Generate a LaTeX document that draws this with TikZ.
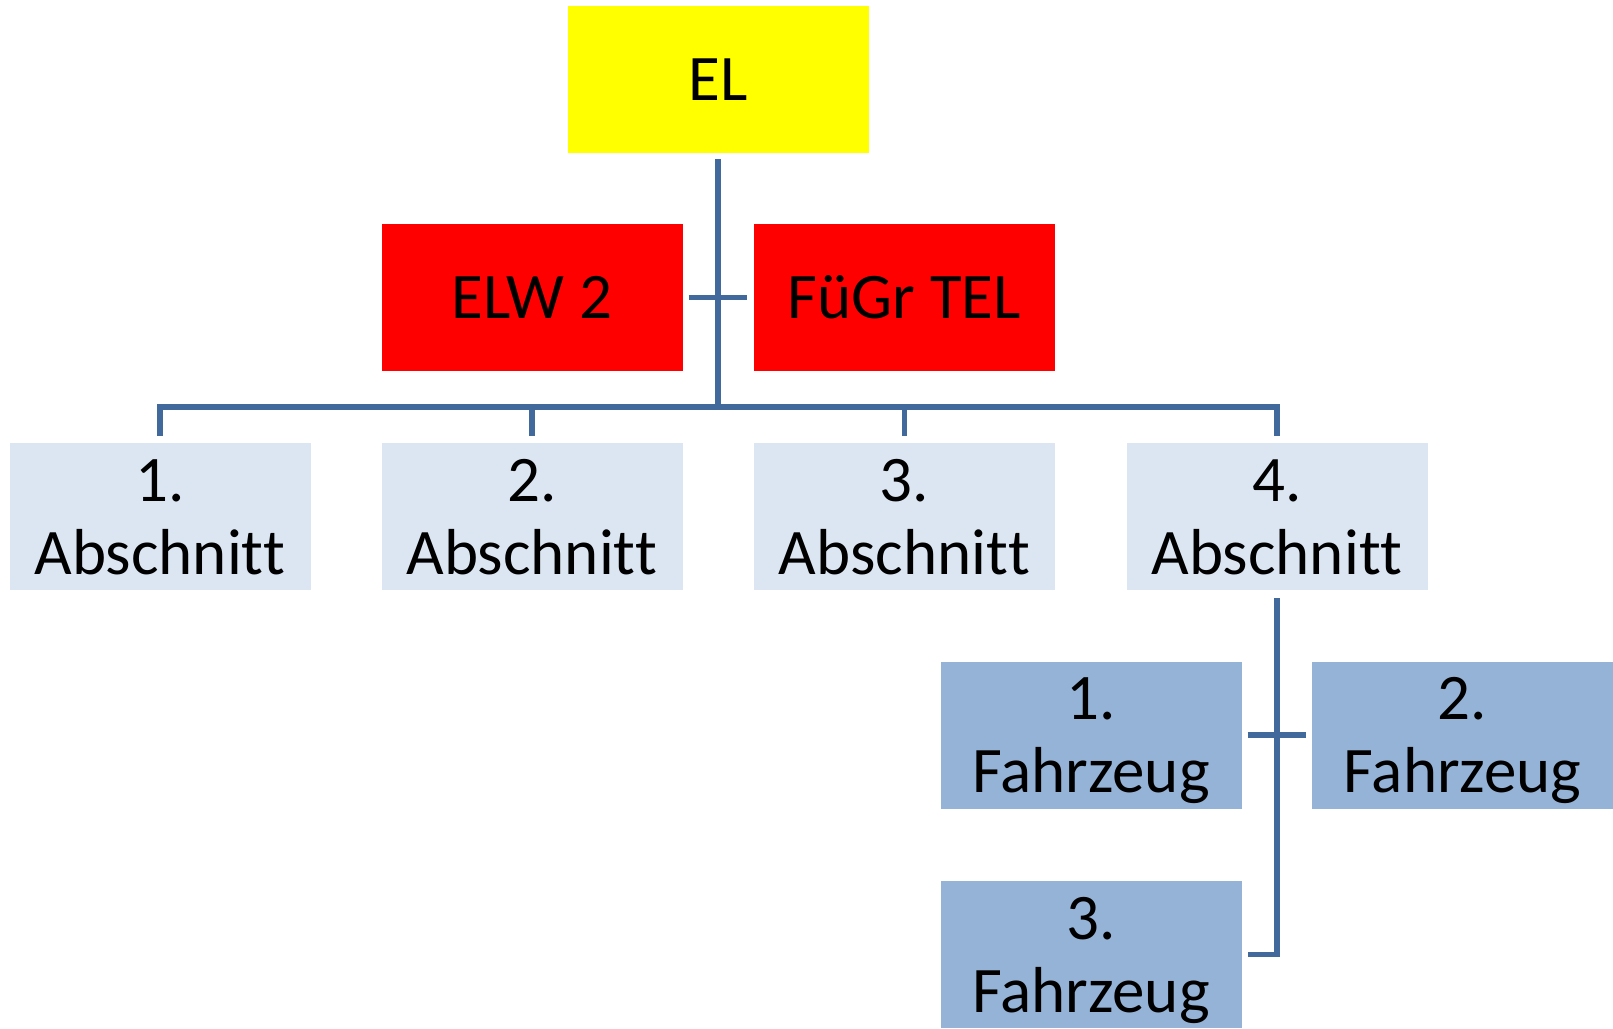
\documentclass[tikz,border=0pt]{standalone}
\usepackage{fontspec}
\setmainfont[RawFeature={-liga;-clig;-dlig;-calt}]{Carlito}
\definecolor{elyellow}{RGB}{255,255,0}
\definecolor{staffred}{RGB}{255,0,0}
\definecolor{sectionblue}{RGB}{220,230,242}
\definecolor{vehicleblue}{RGB}{149,179,215}
\definecolor{linkblue}{RGB}{65,105,155}
% one-line label, centred on its capitals
\newcommand{\oneline}[1]{\raisebox{0pt}[42pt][0pt]{#1}}
% two-line label, centred from the first cap line to the last baseline
\newcommand{\twolines}[2]{\raisebox{0pt}[115pt][0pt]{\begin{tabular}[b]{@{}c@{}}#1\\#2\end{tabular}}}
\begin{document}
\begin{tikzpicture}[x=1pt,y=-1pt,
  unit/.style={rectangle,inner sep=0pt,minimum width=301pt,minimum height=147pt,
    font=\fontsize{65}{73}\selectfont},
  lead/.style={unit,fill=elyellow},
  staff/.style={unit,fill=staffred},
  section/.style={unit,fill=sectionblue},
  vehicle/.style={unit,fill=vehicleblue},
  conn/.style={draw=linkblue,line width=5.5pt,line join=miter}]
\fill[white] (0,0) rectangle (1613,1028);
\useasboundingbox (0,0) rectangle (1613,1028);

% command level
\node[lead]  (el)    at (718,79.5)    {\oneline{EL}};
\node[staff] (elw)   at (532,297.5)   {\oneline{ELW 2}};
\node[staff] (fuegr) at (904.5,297.5) {\oneline{FüGr TEL}};

% sections
\node[section] (a1) at (160,516.5)    {\twolines{1.}{Abschnit\kern0pt t}};
\node[section] (a2) at (532,516.5)    {\twolines{2.}{Abschnit\kern0pt t}};
\node[section] (a3) at (904.5,516.5)  {\twolines{3.}{Abschnit\kern0pt t}};
\node[section] (a4) at (1277,516.5)   {\twolines{4.}{Abschnit\kern0pt t}};

% vehicles of the 4th section
\node[vehicle] (f1) at (1091,735)     {\twolines{1.}{Fahrzeug}};
\node[vehicle] (f2) at (1462.5,735)   {\twolines{2.}{Fahrzeug}};
\node[vehicle] (f3) at (1091,954.5)   {\twolines{3.}{Fahrzeug}};

% connectors
\coordinate (bus) at ([yshift=36pt]a1.north);
\draw[conn] ([yshift=-6pt]el.south) -- (el.south |- bus);
\draw[conn] ([xshift=6pt]elw.east) -- ([xshift=-7pt]fuegr.west);
\draw[conn] ([yshift=7pt]a1.north) -- (bus) -- (a4.north |- bus) -- ([yshift=7pt]a4.north);
\draw[conn] ([yshift=7pt]a2.north) -- (a2.north |- bus);
\draw[conn] ([yshift=7pt]a3.north) -- (a3.north |- bus);
\draw[conn] ([yshift=-8pt]a4.south) |- ([xshift=6pt]f3.east);
\draw[conn] ([xshift=6pt]f1.east) -- ([xshift=-6pt]f2.west);
\end{tikzpicture}
\end{document}
